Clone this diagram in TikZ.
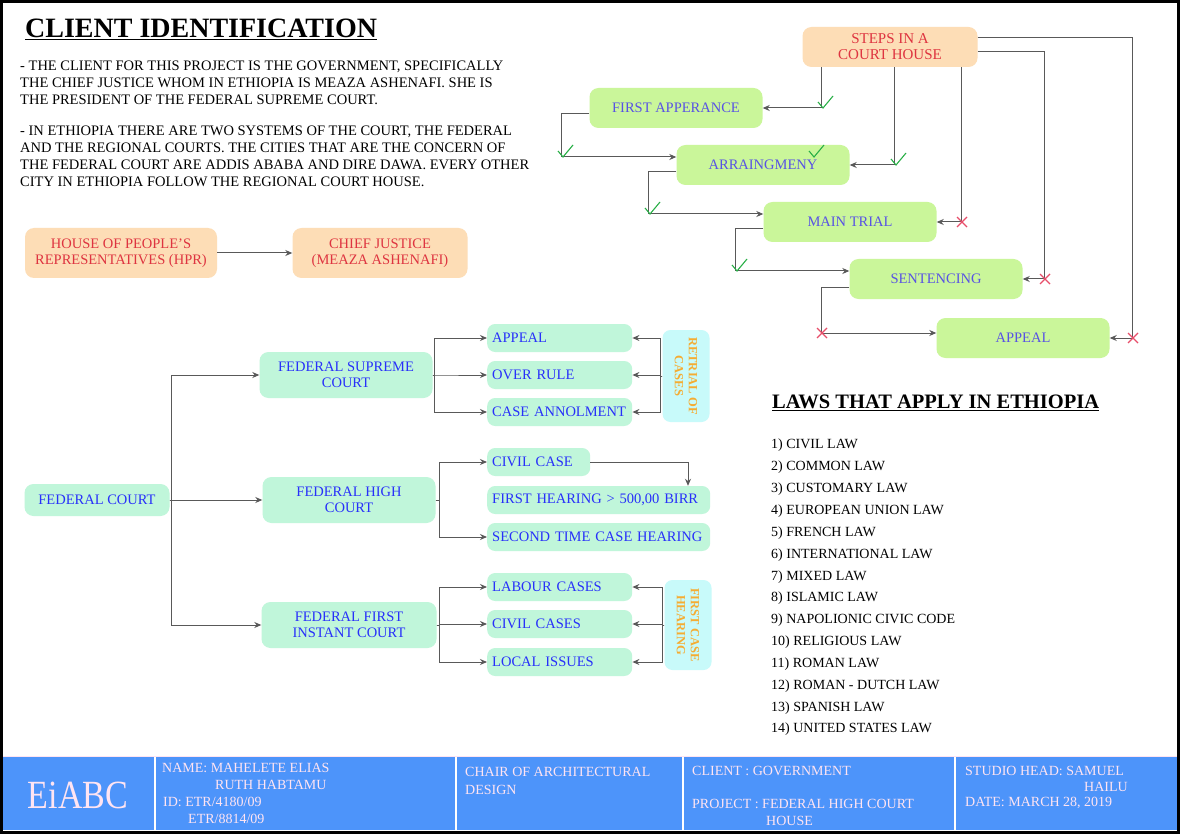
\documentclass[tikz,border=0pt]{standalone}
\usepackage{fontspec}
\setmainfont{Liberation Serif}
\usetikzlibrary{arrows.meta}
\definecolor{peach}{RGB}{253,221,182}
\definecolor{crimson}{RGB}{222,52,64}
\definecolor{stepgreen}{RGB}{202,246,154}
\definecolor{mint}{RGB}{192,246,218}
\definecolor{iceblue}{RGB}{200,250,250}
\definecolor{amber}{RGB}{245,172,50}
\definecolor{stepink}{RGB}{88,82,228}
\definecolor{fedink}{RGB}{40,48,250}
\definecolor{okgreen}{RGB}{40,175,70}
\definecolor{nored}{RGB}{232,78,106}
\definecolor{bandblue}{RGB}{77,148,250}
\definecolor{bandink}{RGB}{255,228,242}
\begin{document}
\begin{tikzpicture}[x=1pt,y=-1pt,
    arr/.style={-{Stealth[length=7pt,width=6pt]},draw=black!65,line width=1pt},
    peachbox/.style={fill=peach,rounded corners=9pt,align=center,text=crimson,
      minimum height=50pt,font=\fontsize{14.5}{16}\selectfont},
    stepbox/.style={fill=stepgreen,rounded corners=9pt,minimum width=173pt,
      minimum height=40pt,text=stepink,font=\fontsize{14.5}{16}\selectfont},
    courtbox/.style={fill=mint,rounded corners=9pt,minimum width=173pt,
      minimum height=46pt,align=center,text=fedink,font=\fontsize{14.5}{16}\selectfont},
    casebox/.style={fill=mint,rounded corners=8pt,minimum height=28pt,anchor=west,
      inner xsep=5pt,align=left,text=fedink,font=\fontsize{14.5}{16}\selectfont},
    sidebox/.style={fill=iceblue,rounded corners=8pt,rotate=-90,align=center,
      text=amber,minimum height=47pt,font=\bfseries\fontsize{12.5}{14}\selectfont},
    okline/.style={draw=okgreen,line width=1.1pt},
    noline/.style={draw=nored,line width=1.1pt},
    bandtext/.style={anchor=west,text=bandink,inner sep=0,font=\fontsize{14}{15}\selectfont}]
  \useasboundingbox (0,0) rectangle (1180,834);
  \fill[white] (0,0) rectangle (1180,834);

  % client text
  \node[anchor=west,inner sep=0,font=\bfseries\fontsize{28}{30}\selectfont] (title) at (25,29)
    {\underline{CLIENT IDENTIFICATION}};
  \node[anchor=north west,align=left,inner sep=0,font=\fontsize{14.5}{17}\selectfont] (para1) at (20,61)
    {- THE CLIENT FOR THIS PROJECT IS THE GOVERNMENT, SPECIFICALLY\\
     THE CHIEF JUSTICE WHOM IN ETHIOPIA IS MEAZA ASHENAFI. SHE IS\\
     THE PRESIDENT OF THE FEDERAL SUPREME COURT.};
  \node[anchor=north west,align=left,inner sep=0,font=\fontsize{14.5}{17}\selectfont] (para2) at (20,126)
    {- IN ETHIOPIA THERE ARE TWO SYSTEMS OF THE COURT, THE FEDERAL\\
     AND THE REGIONAL COURTS. THE CITIES THAT ARE THE CONCERN OF\\
     THE FEDERAL COURT ARE ADDIS ABABA AND DIRE DAWA. EVERY OTHER\\
     CITY IN ETHIOPIA FOLLOW THE REGIONAL COURT HOUSE.};

  \node[peachbox,minimum width=192pt] (hpr) at (121,253) {HOUSE OF PEOPLE’S\\REPRESENTATIVES (HPR)};
  \node[peachbox,minimum width=175pt] (cj) at (380,253) {CHIEF JUSTICE\\(MEAZA ASHENAFI)};
  \draw[arr] (hpr) -- (cj);

  % steps in a court house
  \node[peachbox,minimum width=175pt,minimum height=40pt,font=\fontsize{15}{16}\selectfont] (steps) at (890,47)
    {STEPS IN A\\COURT HOUSE};
  \node[stepbox] (fa) at (676,108) {FIRST APPERANCE};
  \node[stepbox] (arm) at (763,165) {ARRAINGMENY};
  \node[stepbox] (mt) at (850,222) {MAIN TRIAL};
  \node[stepbox] (sen) at (936,279) {SENTENCING};
  \node[stepbox] (app) at (1023,338) {APPEAL};

  \draw[arr] ([xshift=19pt]steps.south west) |- (fa.east);
  \draw[arr] ([xshift=92pt]steps.south west) |- (arm.east);
  \draw[arr] ([xshift=159pt]steps.south west) |- (mt.east);
  \draw[arr] ([yshift=-5pt]steps.east) -| ([xshift=22pt]sen.east) -- (sen.east);
  \draw[arr] ([yshift=9pt]steps.east) -| ([xshift=23pt]app.east) -- (app.east);
  \draw[arr] ([yshift=-6pt]fa.west) -- ++(-28,0) |- ([yshift=8pt]arm.west);
  \draw[arr] ([yshift=-7pt]arm.west) -- ++(-28,0) |- ([yshift=8pt]mt.west);
  \draw[arr] ([yshift=-7pt]mt.west) -- ++(-28,0) |- ([yshift=8pt]sen.west);
  \draw[arr] ([yshift=-8pt]sen.west) -- ++(-28,0) |- ([yshift=5pt]app.west);

  \draw[okline] (818,102) -- (823,108) -- (833,96);
  \draw[okline] (891,159) -- (896,165) -- (906,153);
  \draw[okline] (809,151) -- (814,157) -- (824,145);
  \draw[okline] (558,151) -- (563,157) -- (573,145);
  \draw[okline] (645,208) -- (650,214) -- (660,202);
  \draw[okline] (732,265) -- (737,271) -- (747,259);
  \draw[noline] (957,217) -- (967,227) (967,217) -- (957,227);
  \draw[noline] (1040,274) -- (1050,284) (1050,274) -- (1040,284);
  \draw[noline] (1128,333) -- (1138,343) (1138,333) -- (1128,343);
  \draw[noline] (817,328) -- (827,338) (827,328) -- (817,338);

  % federal court
  \node[courtbox,minimum width=145pt,minimum height=32pt] (fc) at (97,500) {FEDERAL COURT};
  \node[courtbox] (fsc) at (346,375) {FEDERAL SUPREME\\COURT};
  \node[courtbox] (fhc) at (349,500) {FEDERAL HIGH\\COURT};
  \node[courtbox,minimum width=175pt] (ffic) at (349,625) {FEDERAL FIRST\\INSTANT COURT};
  \draw[arr] (fc.east) -- ++(2,0) |- (fsc.west);
  \draw[arr] (fc.east) -- (fhc.west);
  \draw[arr] (fc.east) -- ++(2,0) |- (ffic.west);

  \node[casebox,text width=135pt] (ap) at (487,338) {APPEAL};
  \node[casebox,text width=135pt] (ovr) at (487,375) {OVER RULE};
  \node[casebox,text width=135pt] (ann) at (487,412) {CASE~ANNOLMENT};
  \node[sidebox,minimum width=92pt] (retrial) at (686,376) {RETRIAL OF\\CASES};
  \draw[arr] (fsc.east) -- ++(2,0) |- (ap.west);
  \draw[arr] (fsc.east) -- ++(2,0) |- (ovr.west);
  \draw[arr] (fsc.east) -- ++(2,0) |- (ann.west);
  \draw[arr] (retrial.south) -- ++(-2,0) |- (ap.east);
  \draw[arr] (retrial.south) -- ++(-2,0) |- (ovr.east);
  \draw[arr] (retrial.south) -- ++(-2,0) |- (ann.east);

  \node[casebox,text width=93pt] (cc) at (487,462) {CIVIL~CASE};
  \node[casebox,text width=213pt] (fh) at (487,500) {FIRST HEARING > 500,00 BIRR};
  \node[casebox,text width=213pt] (st) at (487,537) {SECOND TIME CASE HEARING};
  \draw[arr] (fhc.east) -- ++(4,0) |- (cc.west);
  \draw[arr] (fhc.east) -- ++(4,0) |- (st.west);
  \draw[arr] (cc.east) -| ([xshift=201pt]fh.north west);

  \node[casebox,text width=135pt] (lab) at (487,587) {LABOUR CASES};
  \node[casebox,text width=135pt] (civ) at (487,624) {CIVIL CASES};
  \node[casebox,text width=135pt] (loc) at (487,662) {LOCAL ISSUES};
  \node[sidebox,minimum width=90pt] (firstcase) at (688,625) {FIRST CASE\\HEARING};
  \draw[arr] (ffic.east) -- ++(3,0) |- (lab.west);
  \draw[arr] (ffic.east) -- ++(3,0) |- (civ.west);
  \draw[arr] (ffic.east) -- ++(3,0) |- (loc.west);
  \draw[arr] (firstcase.south) -- ++(-2,0) |- (lab.east);
  \draw[arr] (firstcase.south) -- ++(-2,0) |- (civ.east);
  \draw[arr] (firstcase.south) -- ++(-2,0) |- (loc.east);

  % laws
  \node[anchor=west,inner sep=0,font=\bfseries\fontsize{20.5}{22}\selectfont] (lawhead) at (772,403)
    {\underline{LAWS THAT APPLY IN ETHIOPIA}};
  \node[anchor=north west,align=left,inner sep=0,font=\fontsize{14}{21.85}\selectfont] (laws) at (771,439)
    {1) CIVIL LAW\\2) COMMON LAW\\3) CUSTOMARY LAW\\4) EUROPEAN UNION LAW\\5) FRENCH LAW\\
     6) INTERNATIONAL LAW\\7) MIXED LAW\\8) ISLAMIC LAW\\9) NAPOLIONIC CIVIC CODE\\
     10) RELIGIOUS LAW\\11) ROMAN LAW\\12) ROMAN - DUTCH LAW\\13) SPANISH LAW\\14) UNITED STATES LAW};

  % title block
  \fill[bandblue] (3,757) rectangle (1177,830);
  \draw[bandink,line width=1pt] (3,756) -- (1177,756);
  \draw[white,line width=1.5pt] (155,757) -- (155,830);
  \draw[white,line width=1.5pt] (456,757) -- (456,830);
  \draw[white,line width=1.5pt] (683,757) -- (683,830);
  \draw[white,line width=1.5pt] (955,757) -- (955,830);
  \node[text=bandink,font=\fontsize{40}{42}\selectfont] (logo) at (78,795) {\scalebox{0.85}[1]{EiABC}};
  \node[bandtext] (name1) at (162,768) {NAME: MAHELETE ELIAS};
  \node[bandtext] (name2) at (215,785) {RUTH HABTAMU};
  \node[bandtext] (id1) at (163,802) {ID: ETR/4180/09};
  \node[bandtext] (id2) at (188,819) {ETR/8814/09};
  \node[bandtext] (chair1) at (465,772) {CHAIR OF ARCHITECTURAL};
  \node[bandtext] (chair2) at (465,790) {DESIGN};
  \node[bandtext] (client) at (692,771) {CLIENT : GOVERNMENT};
  \node[bandtext] (proj1) at (692,804) {PROJECT : FEDERAL HIGH COURT};
  \node[bandtext] (proj2) at (766,821) {HOUSE};
  \node[bandtext] (head1) at (965,771) {STUDIO HEAD: SAMUEL};
  \node[bandtext] (head2) at (1084,787) {HAILU};
  \node[bandtext] (date) at (965,803) {DATE: MARCH 28, 2019};

  \draw[line width=2.5pt] (1.5,1.5) rectangle (1178.5,832.5);
\end{tikzpicture}
\end{document}
